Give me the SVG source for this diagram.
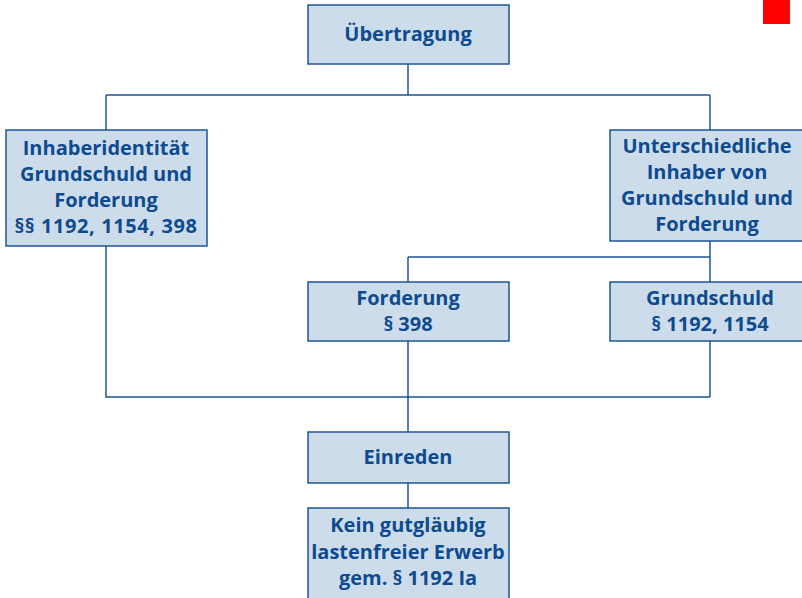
<svg xmlns="http://www.w3.org/2000/svg" width="802" height="598" viewBox="0 0 802 598">
<style>
.box{fill:#cddcea;stroke:#1c5596;stroke-width:1.5}
.t{font-family:"Open Sans","Noto Sans",sans-serif;font-weight:bold;font-size:20px;fill:#0d4b91;text-anchor:middle}
.c{stroke:#1c5596;stroke-width:1.5;fill:none}
</style>
<rect width="802" height="598" fill="#ffffff"/>
<rect x="763" y="0" width="27" height="24" fill="#ff0000"/>
<g id="connectors">
<path class="c" d="M408 64V95M106 95H710M106 95V130M710 95V130"/>
<path class="c" d="M710 241V282M408 257H710M408 257V282"/>
<path class="c" d="M106 246V397H710M710 341V397M408 341V432"/>
<path class="c" d="M408 483V508"/>
</g>
<g id="n1"><rect class="box" x="308" y="5" width="201" height="59"/><text class="t" x="408" y="41">Übertragung</text></g>
<g id="n2"><rect class="box" x="6" y="130" width="201" height="116"/>
<text class="t" x="106" y="155">Inhaberidentität</text>
<text class="t" x="106" y="181">Grundschuld und</text>
<text class="t" x="106" y="207">Forderung</text>
<text class="t" x="106" y="233" letter-spacing="0.6">§§ 1192, 1154, 398</text></g>
<g id="n3"><rect class="box" x="610" y="130" width="201" height="111"/>
<text class="t" x="707" y="153">Unterschiedliche</text>
<text class="t" x="707" y="179">Inhaber von</text>
<text class="t" x="707" y="205">Grundschuld und</text>
<text class="t" x="707" y="231">Forderung</text></g>
<g id="n4"><rect class="box" x="308" y="282" width="201" height="59"/>
<text class="t" x="408" y="305">Forderung</text>
<text class="t" x="408" y="331">§ 398</text></g>
<g id="n5"><rect class="box" x="610" y="282" width="201" height="59"/>
<text class="t" x="710" y="305">Grundschuld</text>
<text class="t" x="710" y="331">§ 1192, 1154</text></g>
<g id="n6"><rect class="box" x="308" y="432" width="201" height="51"/>
<text class="t" x="408" y="464">Einreden</text></g>
<g id="n7"><rect class="box" x="308" y="508" width="201" height="100"/>
<text class="t" x="408" y="532">Kein gutgläubig</text>
<text class="t" x="408" y="559">lastenfreier Erwerb</text>
<text class="t" x="408" y="585">gem. § 1192 Ia</text></g>
</svg>
